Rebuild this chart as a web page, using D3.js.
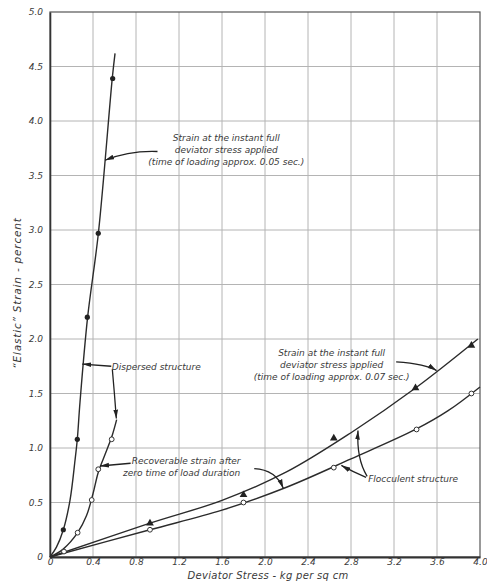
<!DOCTYPE html>
<html lang="en">

<head>
    <meta charset="UTF-8">
    <script src="https://d3js.org/d3.v7.min.js"></script>
    <title>Elastic strain</title>
    <style>
        body { margin: 0; background: #fff; }
        text { font-family: 'DejaVu Sans', sans-serif; font-style: italic; fill: #3a3a3a; }
    </style>
</head>

<body>
    <div id="app"></div>
    <script>
        const svg_width = 487;
        const svg_height = 584;

        // tick values
        var x_ticks = [0, 0.4, 0.8, 1.2, 1.6, 2.0, 2.4, 2.8, 3.2, 3.6, 4.0]
        var y_ticks = [0, 0.5, 1.0, 1.5, 2.0, 2.5, 3.0, 3.5, 4.0, 4.5, 5.0]

        // dispersed structure, strain at instant full deviator stress (filled circles)
        var disp_inst_curve_x = [0, 0.06, 0.124, 0.186, 0.233, 0.254, 0.279, 0.35, 0.45, 0.58, 0.605]
        var disp_inst_curve_y = [0, 0.09, 0.25, 0.52, 0.89, 1.08, 1.42, 2.2, 2.97, 4.4, 4.62]
        var disp_inst_pts_x = [0.124, 0.254, 0.347, 0.449, 0.583]
        var disp_inst_pts_y = [0.25, 1.08, 2.2, 2.97, 4.39]

        // dispersed structure, recoverable strain (open circles)
        var disp_rec_curve_x = [0, 0.12, 0.257, 0.34, 0.40, 0.45, 0.52, 0.58, 0.62]
        var disp_rec_curve_y = [0, 0.07, 0.223, 0.38, 0.58, 0.78, 0.96, 1.12, 1.26]
        var disp_rec_pts_x = [0.257, 0.388, 0.449, 0.574]
        var disp_rec_pts_y = [0.223, 0.523, 0.805, 1.08]

        // flocculent structure, strain at instant full deviator stress (triangles)
        var floc_inst_curve_x = [0, 0.93, 1.6, 2.2, 2.8, 3.4, 3.98]
        var floc_inst_curve_y = [0, 0.31, 0.52, 0.78, 1.14, 1.55, 2.0]
        var floc_inst_pts_x = [0.93, 1.80, 2.64, 3.40, 3.92]
        var floc_inst_pts_y = [0.31, 0.57, 1.09, 1.55, 1.94]

        // flocculent structure, recoverable strain (open circles)
        var floc_rec_curve_x = [0, 0.93, 1.6, 2.2, 2.8, 3.4, 3.7, 4.0]
        var floc_rec_curve_y = [0, 0.25, 0.43, 0.64, 0.9, 1.17, 1.34, 1.56]
        var floc_rec_pts_x = [0.13, 0.93, 1.80, 2.64, 3.41, 3.92]
        var floc_rec_pts_y = [0.05, 0.25, 0.50, 0.82, 1.17, 1.50]

        var svg = d3.select('#app')
            .append('svg')
            .attr('width', svg_width)
            .attr('height', svg_height)

        var x_scale = d3.scaleLinear()
            .domain([0, 4.0])
            .range([50, 480])
        var y_scale = d3.scaleLinear()
            .domain([0, 5.0])
            .range([557, 12])

        svg.append('defs')
            .append('marker')
            .attr('id', 'arrow')
            .attr('markerUnits', 'userSpaceOnUse')
            .attr('markerWidth', 10)
            .attr('markerHeight', 6)
            .attr('refX', 9)
            .attr('refY', 3)
            .attr('orient', 'auto')
            .append('path')
            .attr('d', 'M0,0.6 L9,3 L0,5.4 Z')
            .attr('fill', '#222')

        // grid
        svg.selectAll('.vgrid')
            .data(x_ticks.slice(1, -1))
            .enter()
            .append('line')
            .attr('x1', function (d) { return x_scale(d) })
            .attr('x2', function (d) { return x_scale(d) })
            .attr('y1', y_scale(0))
            .attr('y2', y_scale(5))
            .attr('stroke', '#b4b4b4')
            .attr('stroke-width', 1)
        svg.selectAll('.hgrid')
            .data(y_ticks.slice(1, -1))
            .enter()
            .append('line')
            .attr('y1', function (d) { return y_scale(d) })
            .attr('y2', function (d) { return y_scale(d) })
            .attr('x1', x_scale(0))
            .attr('x2', x_scale(4))
            .attr('stroke', '#b4b4b4')
            .attr('stroke-width', 1)

        svg.append('rect')
            .attr('x', x_scale(0))
            .attr('y', y_scale(5))
            .attr('width', x_scale(4) - x_scale(0))
            .attr('height', y_scale(0) - y_scale(5))
            .attr('fill', 'none')
            .attr('stroke', '#555')
            .attr('stroke-width', 1.2)

        var x_axis = d3.axisBottom(x_scale)
            .tickValues(x_ticks)
            .tickSize(0)
            .tickPadding(2)
            .tickFormat(function (d) { return d === 0 ? '0' : d3.format('.1f')(d) })
        var y_axis = d3.axisLeft(y_scale)
            .tickValues(y_ticks)
            .tickSize(0)
            .tickPadding(7)
            .tickFormat(function (d) { return d === 0 ? '0' : d3.format('.1f')(d) })

        var gx = svg.append('g')
            .attr('transform', 'translate(0,' + y_scale(0) + ')')
            .call(x_axis)
        var gy = svg.append('g')
            .attr('transform', 'translate(' + x_scale(0) + ',0)')
            .call(y_axis)
        gx.select('.domain').attr('stroke', '#333').attr('stroke-width', 1.8)
        gy.select('.domain').attr('stroke', '#333').attr('stroke-width', 1.6)
        svg.selectAll('.tick text')
            .style('font-family', "'DejaVu Sans', sans-serif")
            .style('font-style', 'italic')
            .style('font-size', '9px')
            .attr('fill', '#666')

        svg.append('text')
            .attr('x', 268)
            .attr('y', 579)
            .style('font-size', '10px')
            .style('letter-spacing', '0.3px')
            .style('text-anchor', 'middle')
            .text('Deviator Stress - kg per sq cm')
        svg.append('text')
            .attr('transform', 'translate(21,293) rotate(-90)')
            .style('font-size', '10.5px')
            .style('letter-spacing', '0.8px')
            .style('text-anchor', 'middle')
            .text('\u201CElastic\u201D Strain - percent')

        // curves
        var line = d3.line()
            .x(function (d) { return x_scale(d[0]) })
            .y(function (d) { return y_scale(d[1]) })
            .curve(d3.curveCatmullRom.alpha(0.5))

        function zip(xs, ys) {
            return xs.map(function (x, i) { return [x, ys[i]] })
        }

        var curves = [
            zip(disp_inst_curve_x, disp_inst_curve_y),
            zip(disp_rec_curve_x, disp_rec_curve_y),
            zip(floc_inst_curve_x, floc_inst_curve_y),
            zip(floc_rec_curve_x, floc_rec_curve_y)
        ]
        svg.selectAll('.curve')
            .data(curves)
            .enter()
            .append('path')
            .attr('d', line)
            .attr('fill', 'none')
            .attr('stroke', '#2b2b2b')
            .attr('stroke-width', 1.4)

        // markers
        svg.selectAll('.fdot')
            .data(zip(disp_inst_pts_x, disp_inst_pts_y))
            .enter()
            .append('circle')
            .attr('cx', function (d) { return x_scale(d[0]) })
            .attr('cy', function (d) { return y_scale(d[1]) })
            .attr('r', 2.6)
            .attr('fill', '#222')

        svg.selectAll('.odot')
            .data(zip(disp_rec_pts_x, disp_rec_pts_y).concat(zip(floc_rec_pts_x, floc_rec_pts_y)))
            .enter()
            .append('circle')
            .attr('cx', function (d) { return x_scale(d[0]) })
            .attr('cy', function (d) { return y_scale(d[1]) })
            .attr('r', 2.4)
            .attr('fill', '#fff')
            .attr('stroke', '#333')
            .attr('stroke-width', 1)

        svg.selectAll('.tri')
            .data(zip(floc_inst_pts_x, floc_inst_pts_y))
            .enter()
            .append('path')
            .attr('d', d3.symbol().type(d3.symbolTriangle).size(26))
            .attr('transform', function (d) {
                return 'translate(' + x_scale(d[0]) + ',' + y_scale(d[1]) + ')'
            })
            .attr('fill', '#222')

        // annotations (positions in data units)
        function P(x, y) { return x_scale(x) + ',' + y_scale(y) }

        var leaders = [
            'M' + P(1.0, 3.72) + ' Q' + P(0.74, 3.73) + ' ' + P(0.512, 3.64),
            'M' + P(0.57, 1.75) + ' L' + P(0.3, 1.77),
            'M' + P(0.58, 1.72) + ' Q' + P(0.6, 1.5) + ' ' + P(0.617, 1.27),
            'M' + P(0.75, 0.86) + ' L' + P(0.465, 0.835),
            'M' + P(1.9, 0.81) + ' Q' + P(2.1, 0.8) + ' ' + P(2.17, 0.63),
            'M' + P(3.22, 1.79) + ' Q' + P(3.5, 1.77) + ' ' + P(3.596, 1.71),
            'M' + P(2.95, 0.74) + ' Q' + P(2.85, 0.9) + ' ' + P(2.865, 1.16),
            'M' + P(2.94, 0.73) + ' Q' + P(2.82, 0.78) + ' ' + P(2.71, 0.84)
        ]
        svg.selectAll('.leader')
            .data(leaders)
            .enter()
            .append('path')
            .attr('d', function (d) { return d })
            .attr('fill', 'none')
            .attr('stroke', '#222')
            .attr('stroke-width', 1.3)
            .attr('marker-end', 'url(#arrow)')

        var notes = [
            { x: 1.64, y: 3.82, anchor: 'middle', lines: ['Strain at the instant full', 'deviator stress applied', '(time of loading approx. 0.05 sec.)'] },
            { x: 0.575, y: 1.72, anchor: 'start', lines: ['Dispersed structure'] },
            { x: 0.76, y: 0.85, anchor: 'start', lines: ['Recoverable strain after'] },
            { x: 0.68, y: 0.74, anchor: 'start', lines: ['zero time of load duration'] },
            { x: 2.62, y: 1.84, anchor: 'middle', lines: ['Strain at the instant full', 'deviator stress applied', '(time of loading approx. 0.07 sec.)'] },
            { x: 2.96, y: 0.69, anchor: 'start', lines: ['Flocculent structure'] }
        ]
        notes.forEach(function (n) {
            var t = svg.append('text')
                .attr('x', x_scale(n.x))
                .attr('y', y_scale(n.y))
                .style('font-size', '9px')
                .style('text-anchor', n.anchor)
            n.lines.forEach(function (s, i) {
                t.append('tspan')
                    .attr('x', x_scale(n.x))
                    .attr('dy', i === 0 ? 0 : 12)
                    .text(s)
            })
        })
    </script>
</body>

</html>
